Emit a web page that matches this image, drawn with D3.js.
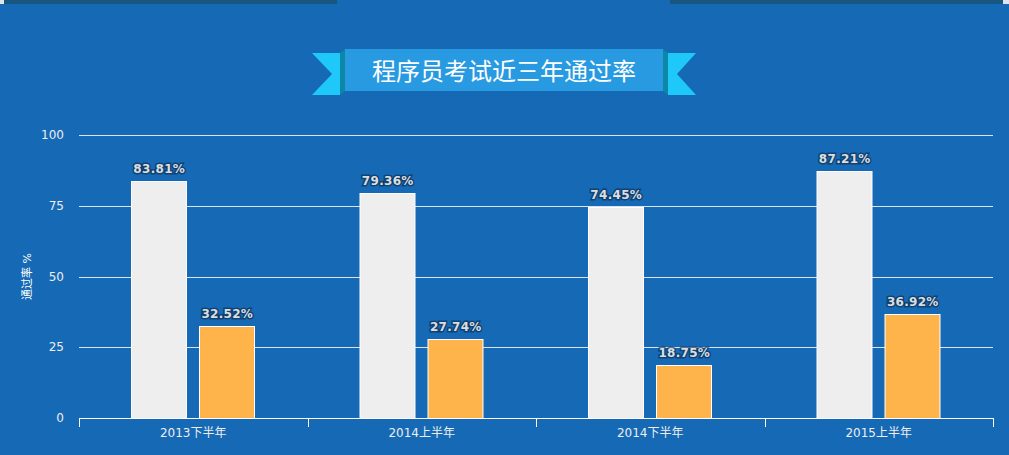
<!DOCTYPE html>
<html>
<head>
<meta charset="utf-8">
<script src="https://cdn.jsdelivr.net/npm/d3@7"></script>
<style>
  body { margin: 0; background: #1669b5; }
  svg { display: block; }
</style>
</head>
<body>
<div id="chart"></div>
<script>
var w = 1009,
    h = 455;

var categories = ['2013下半年', '2014上半年', '2014下半年', '2015上半年'];
var seriesNames = ['上午', '下午'];
var morning = [83.81, 79.36, 74.45, 87.21];
var afternoon = [32.52, 27.74, 18.75, 36.92];
var yTicks = [0, 25, 50, 75, 100];
var colors = ['#eeeeee', '#ffb44b'];

var font = '"DejaVu Sans", Verdana, "Noto Sans CJK SC", sans-serif';

var margin = {top: 135, right: 16, bottom: 37, left: 79};
var plotW = w - margin.left - margin.right,
    plotH = h - margin.top - margin.bottom;

var svg = d3.select('#chart').append('svg').attr('width', w).attr('height', h);

svg.append('rect').attr('width', w).attr('height', h).attr('fill', '#1669b5');

// top strips
svg.append('rect').attr('x', 0).attr('y', 0).attr('width', 4).attr('height', 4).attr('fill', '#dde6ee');
svg.append('rect').attr('x', 4).attr('y', 0).attr('width', 333).attr('height', 4).attr('fill', '#17567f');
svg.append('rect').attr('x', 670).attr('y', 0).attr('width', 333).attr('height', 4).attr('fill', '#17567f');
svg.append('rect').attr('x', 1003).attr('y', 0).attr('width', 6).attr('height', 4).attr('fill', '#dde6ee');

// title ribbon
var ribbon = svg.append('g');
ribbon.append('polygon')
  .attr('points', '312,53 340,53 340,95 312,95 332,74')
  .attr('fill', '#1ec8f9');
ribbon.append('polygon')
  .attr('points', '340,53 345,49 345,91 340,95')
  .attr('fill', '#0e86a8');
ribbon.append('polygon')
  .attr('points', '696,53 668,53 668,95 696,95 677,74')
  .attr('fill', '#1ec8f9');
ribbon.append('polygon')
  .attr('points', '668,53 663,49 663,91 668,95')
  .attr('fill', '#0e86a8');
ribbon.append('rect')
  .attr('x', 345).attr('y', 49).attr('width', 318).attr('height', 42)
  .attr('fill', '#279ae2');
ribbon.append('text')
  .attr('x', 504).attr('y', 80)
  .attr('text-anchor', 'middle')
  .attr('fill', '#ffffff')
  .style('font-family', '"Noto Sans CJK SC", sans-serif')
  .style('font-size', '24px')
  .text('程序员考试近三年通过率');

var g = svg.append('g').attr('transform', 'translate(' + margin.left + ',' + margin.top + ')');

var x0 = d3.scaleBand().domain(categories).range([0, plotW]);
var x1 = d3.scaleBand().domain(seriesNames)
  .range([52, x0.bandwidth() - 52]).paddingInner(0.17);
var y = d3.scaleLinear().domain([0, 100]).range([plotH, 0]);

// grid
g.selectAll('.grid').data(yTicks.slice(1)).enter().append('line')
  .attr('x1', 0).attr('x2', plotW)
  .attr('y1', function (d) { return Math.round(y(d)) + 0.5; })
  .attr('y2', function (d) { return Math.round(y(d)) + 0.5; })
  .attr('stroke', '#d8e4f0').attr('stroke-width', 1);

// y labels
g.selectAll('.ylab').data(yTicks).enter().append('text')
  .attr('x', -15).attr('y', function (d) { return y(d) + 4; })
  .attr('text-anchor', 'end')
  .attr('fill', '#eeeeee')
  .style('font-family', font).style('font-size', '12px')
  .text(function (d) { return d; });

g.append('text')
  .attr('transform', 'translate(-48,' + plotH / 2 + ') rotate(-90)')
  .attr('text-anchor', 'middle')
  .attr('fill', '#ffffff')
  .style('font-family', font).style('font-size', '11px')
  .text('通过率 %');

// bars
var rows = categories.map(function (c, i) {
  return {cat: c, vals: [morning[i], afternoon[i]]};
});

var groups = g.selectAll('.grp').data(rows).enter().append('g')
  .attr('transform', function (d) { return 'translate(' + x0(d.cat) + ',0)'; });

groups.selectAll('rect').data(function (d) {
  return d.vals.map(function (v, j) { return {name: seriesNames[j], v: v, j: j}; });
}).enter().append('rect')
  .attr('x', function (d) { return Math.round(x1(d.name)) + 0.5; })
  .attr('y', function (d) { return Math.round(y(d.v)) + 0.5; })
  .attr('width', Math.round(x1.bandwidth()) - 1)
  .attr('height', function (d) { return plotH - Math.round(y(d.v)); })
  .attr('fill', function (d) { return colors[d.j]; })
  .attr('stroke', '#ffffff').attr('stroke-width', 1);

groups.selectAll('.lbl').data(function (d) {
  return d.vals.map(function (v, j) { return {name: seriesNames[j], v: v}; });
}).enter().append('text')
  .attr('x', function (d) { return x1(d.name) + x1.bandwidth() / 2; })
  .attr('y', function (d) { return y(d.v) - 8; })
  .attr('text-anchor', 'middle')
  .attr('fill', '#dddddd')
  .attr('stroke', '#0b2a4a').attr('stroke-width', 3).attr('stroke-opacity', 0.6)
  .attr('paint-order', 'stroke')
  .style('font-family', font).style('font-size', '12px').style('font-weight', 'bold')
  .style('letter-spacing', '0.3px')
  .text(function (d) { return d.v.toFixed(2) + '%'; });

// x axis
var xAxis = g.append('g').attr('transform', 'translate(0,' + plotH + ')');
xAxis.append('line')
  .attr('x1', 0).attr('x2', plotW).attr('y1', 0.5).attr('y2', 0.5)
  .attr('stroke', '#ffffff');
var bounds = categories.map(function (c) { return x0(c); }).concat([plotW]);
xAxis.selectAll('.tick').data(bounds).enter().append('line')
  .attr('x1', function (d) { return Math.round(d) + 0.5; })
  .attr('x2', function (d) { return Math.round(d) + 0.5; })
  .attr('y1', 0).attr('y2', 9)
  .attr('stroke', '#ffffff');
xAxis.selectAll('.xlab').data(categories).enter().append('text')
  .attr('x', function (d) { return x0(d) + x0.bandwidth() / 2; })
  .attr('y', 19)
  .attr('text-anchor', 'middle')
  .attr('fill', '#eeeeee')
  .style('font-family', font).style('font-size', '12px')
  .text(function (d) { return d; });
</script>
</body>
</html>
